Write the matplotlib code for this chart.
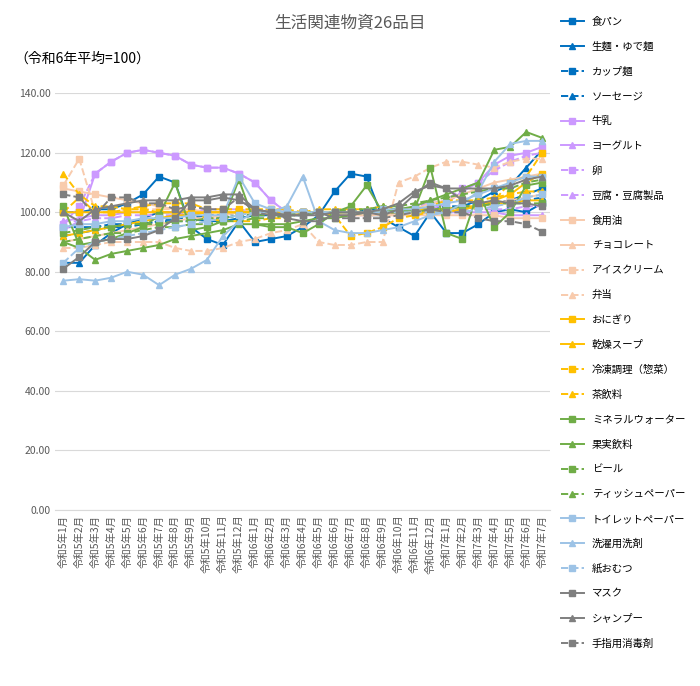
import matplotlib
matplotlib.use("Agg")
import matplotlib.pyplot as plt
from matplotlib.lines import Line2D

plt.rcParams['font.family'] = ['Noto Sans CJK JP', 'DejaVu Sans']

months = [f"令和5年{m}月" for m in range(1, 13)] + [f"令和6年{m}月" for m in range(1, 13)] + [f"令和7年{m}月" for m in range(1, 8)]

names = ["食パン", "生麺・ゆで麺", "カップ麺", "ソーセージ", "牛乳", "ヨーグルト", "卵", "豆腐・豆腐製品",
         "食用油", "チョコレート", "アイスクリーム", "弁当", "おにぎり", "乾燥スープ", "冷凍調理（惣菜）", "茶飲料",
         "ミネラルウォーター", "果実飲料", "ビール", "ティッシュペーパー", "トイレットペーパー", "洗濯用洗剤", "紙おむつ",
         "マスク", "シャンプー", "手指用消毒剤"]

values = [
    [100,100,101,101,103,106,112,110,95,91,89,97, 90,91,92,95,99,107,113,112,98,95,92,100, 93,93,96,100,101,100,103],
    [83,83,89,93,96,98,100,100,98,97,97,98, 99,99,99,99,100,100,100,99,99,100,100,101, 101,102,104,107,109,115,121],
    [95,95,95,96,96,96,97,98,98,99,99,100, 100,100,100,100,100,100,100,100,100,100,100,100, 100,101,102,103,104,106,108],
    [92,93,94,95,95,96,97,97,97,98,98,99, 99,99,100,100,100,100,100,101,101,101,101,101, 102,102,103,103,104,104,105],
    [94,97,113,117,120,121,120,119,116,115,115,113, 110,104,100,100,100,100,100,100,100,100,100,101, 103,107,110,116,119,120,122],
    [97,98,99,99,100,100,100,100,100,101,101,101, 100,100,100,100,100,100,100,100,100,100,100,100, 100,100,100,100,99,99,99],
    [96,102,113,117,120,121,120,119,116,115,115,113, 110,104,100,100,100,99,99,99,100,101,102,103, 104,108,110,114,117,119,120],
    [97,97,98,98,99,99,99,99,100,100,100,100, 100,100,100,100,100,100,100,100,100,100,100,100, 100,100,101,101,101,102,102],
    [108,107,106,105,104,103,102,101,100,100,100,100, 100,100,100,100,100,100,99,99,99,99,99,99, 99,99,99,99,98,98,98],
    [90,91,92,93,94,95,96,97,98,98,99,100, 100,100,100,100,100,100,100,100,100,100,101,103, 104,106,108,110,111,112,113],
    [109,118,100,100,101,101,101,101,101,100,100,100, 101,101,100,100,100,99,99,99,99,99,100,100, 101,101,102,103,104,105,106],
    [88,88,89,90,90,90,90,88,87,87,88,90, 91,93,94,96,90,89,89,90,90,110,112,115, 117,117,116,115,117,118,118],
    [100,100,100,100,100,100,100,100,100,100,100,100, 100,100,100,100,100,100,100,100,100,100,100,100, 100,101,102,104,106,110,113],
    [92,93,94,95,96,97,98,99,99,100,100,100, 100,100,100,100,100,100,100,100,100,100,101,101, 101,102,102,103,103,104,104],
    [100,105,100,100,101,102,103,103,103,101,101,101, 101,101,101,100,100,99,92,93,95,98,99,100, 101,101,102,104,110,112,120],
    [113,106,102,102,101,101,100,100,100,98,97,97, 97,98,98,100,101,101,101,101,102,101,101,102, 104,104,104,105,106,107,107],
    [102,89,90,91,93,95,99,110,94,95,97,111, 96,95,95,93,96,100,102,109,100,100,101,115, 93,91,107,95,100,109,110],
    [90,88,84,86,87,88,89,91,92,93,94,96, 96,96,96,97,98,98,99,100,100,101,102,104, 106,108,110,121,122,127,125],
    [93,94,95,95,96,96,96,97,97,98,98,99, 99,99,99,100,100,100,100,100,101,101,100,101, 101,102,102,103,103,103,103],
    [90,91,92,93,93,94,95,95,96,96,97,97, 98,98,99,99,100,100,101,101,102,102,103,104, 105,106,107,108,108,110,111],
    [95,96,96,97,97,98,98,98,99,99,99,112, 103,101,100,100,100,100,100,100,101,101,101,102, 103,104,106,108,110,112,112],
    [77,77.5,77,78,80,79,75.5,79,81,84,92,97, 100,100,102,112,97,94,93,93,94,95,97,99, 100,103,107,117,123,124,124],
    [83,88,90,91,92,93,94,95,96,97,98,99, 100,100,100,100,100,100,100,100,100,100,100,100, 100,100,101,102,103,105,106],
    [81,85,90,91,91,92,94,98,104,104,105,104, 101,100,99,99,99,100,100,100,99,101,106,110, 108,104,103,104,103,103,102],
    [100,97,101,102,103,104,104,104,105,105,106,106, 101,100,98,97,97,99,99,100,101,103,107,109, 108,108,108,108,109,111,112],
    [106,105,99,105,105,103,103,101,102,101,101,105, 100,99,99,99,100,98,98,98,98,99,100,101, 100,100,98,97,97,96,93.5],
]

group_colors = ["#0070C0", "#CC99FF", "#F8CBAD", "#FFC000", "#70AD47", "#9DC3E6", "#7F7F7F"]
group_sizes = [4, 4, 4, 4, 4, 3, 3]
styles = [("-", "s"), ("-", "^"), ("--", "s"), ("--", "^")]
series_style = []
for g, sz in enumerate(group_sizes):
    for k in range(sz):
        series_style.append((group_colors[g],) + styles[k])

fig = plt.figure(figsize=(7, 6.86), dpi=100)
ax = fig.add_axes([0.079, 0.257, 0.707, 0.607])
x = list(range(len(months)))
handles = []
for n, v, (c, ls, mk) in zip(names, values, series_style):
    ax.plot(x, v, color=c, linestyle=ls, marker=mk, markersize=4, linewidth=1.4, label=n)
    handles.append(Line2D([0], [0], color=c, linestyle=ls, marker=mk, markersize=4, linewidth=1.4))

ax.set_ylim(0, 140)
ax.set_yticks(range(0, 141, 20))
ax.set_yticklabels([f"{t:.2f}" for t in range(0, 141, 20)], fontsize=7.5, color="#595959")
ax.set_xlim(-0.5, len(months) - 0.5)
ax.set_xticks(x)
ax.set_xticklabels(months, rotation=90, fontsize=7.5, color="#595959")
ax.grid(axis='y', color="#D9D9D9", linewidth=0.8)
ax.set_axisbelow(True)
for s in ["top", "right", "left"]:
    ax.spines[s].set_visible(False)
ax.spines["bottom"].set_color("#D9D9D9")
ax.tick_params(length=0)

fig.text(0.5, 0.967, "生活関連物資26品目", ha="center", va="center", fontsize=12, color="#595959")
fig.text(0.02, 0.915, "（令和6年平均=100）", ha="left", va="center", fontsize=10, color="#000000")

fig.legend(handles, names, loc="upper left", bbox_to_anchor=(0.795, 0.982), frameon=False,
           fontsize=7.5, labelspacing=1.42, handlelength=2.2, borderaxespad=0)

fig.savefig("out.png", dpi=100)
